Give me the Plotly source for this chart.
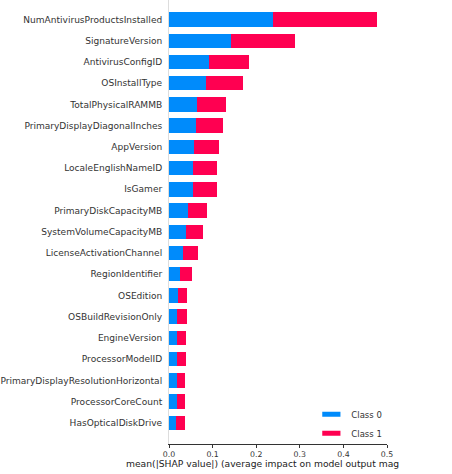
import plotly.graph_objects as go

features = [
    "NumAntivirusProductsInstalled", "SignatureVersion", "AntivirusConfigID",
    "OSInstallType", "TotalPhysicalRAMMB", "PrimaryDisplayDiagonalInches",
    "AppVersion", "LocaleEnglishNameID", "IsGamer", "PrimaryDiskCapacityMB",
    "SystemVolumeCapacityMB", "LicenseActivationChannel", "RegionIdentifier",
    "OSEdition", "OSBuildRevisionOnly", "EngineVersion", "ProcessorModelID",
    "PrimaryDisplayResolutionHorizontal", "ProcessorCoreCount", "HasOpticalDiskDrive",
]
class0 = [0.2375, 0.1433, 0.0920, 0.0843, 0.0644, 0.0613, 0.0575, 0.0560, 0.0552, 0.0430,
          0.0383, 0.0322, 0.0253, 0.0200, 0.0194, 0.0194, 0.0186, 0.0186, 0.0186, 0.0169]
class1 = [0.2390, 0.1448, 0.0910, 0.0843, 0.0660, 0.0630, 0.0570, 0.0550, 0.0558, 0.0444,
          0.0400, 0.0340, 0.0276, 0.0207, 0.0213, 0.0196, 0.0197, 0.0180, 0.0174, 0.0191]
series_names = ["Class 0", "Class 1"]
colors = ["#008bfb", "#ff0051"]
x_ticks = [0.0, 0.1, 0.2, 0.3, 0.4, 0.5]
x_label = "mean(|SHAP value|) (average impact on model output mag"

n = len(features)
ypos = [n - 1 - k for k in range(n)]

fig = go.Figure()
for name, vals, col in zip(series_names, [class0, class1], colors):
    fig.add_trace(go.Bar(
        x=vals, y=ypos, orientation="h", width=0.68, name=name,
        marker=dict(color=col, line=dict(width=0)), showlegend=False,
    ))
for name, col in zip(series_names, colors):
    fig.add_trace(go.Scatter(
        x=[None], y=[None], mode="markers", name=name,
        marker=dict(symbol="line-ew", size=13, color=col, line=dict(color=col, width=6)),
    ))

fig.update_layout(
    width=452, height=474,
    margin=dict(l=169, r=65, t=0, b=29.6),
    barmode="stack",
    plot_bgcolor="white", paper_bgcolor="white",
    font=dict(family="DejaVu Sans", color="#333333"),
    legend=dict(x=0.653, y=0.0995, xanchor="left", yanchor="top",
                traceorder="normal", font=dict(size=8.5, color="#333333"),
                bgcolor="rgba(0,0,0,0)", itemwidth=30),
    annotations=[dict(
        text=x_label, xref="paper", yref="paper", x=-0.206, y=-0.0441,
        xanchor="left", yanchor="middle", showarrow=False,
        font=dict(size=9.2, color="#222222"),
    )],
)
fig.update_xaxes(
    range=[0, 0.5], tickvals=x_ticks, ticktext=[f"{t:.1f}" for t in x_ticks],
    showgrid=False, zeroline=False, showline=True, linecolor="#333333", linewidth=1,
    ticks="outside", ticklen=3, tickcolor="#333333", tickfont=dict(size=7.8, color="#333333"),
    automargin=False,
)
fig.update_yaxes(
    range=[-1, 19.92], tickvals=ypos, ticktext=features,
    showgrid=False, zeroline=False, showline=True, linecolor="#dddddd", linewidth=1,
    ticks="", ticklabelstandoff=4, tickfont=dict(size=9.05, color="#333333"),
    automargin=False,
)

fig.write_html("out.html", config={"displayModeBar": False},
               post_script="document.body.style.margin='0px';")
